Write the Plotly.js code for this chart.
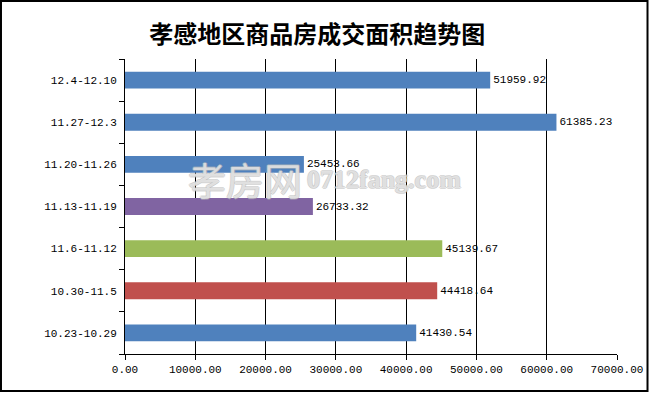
<!DOCTYPE html>
<html>
<head>
<meta charset="utf-8">
<script src="https://cdn.plot.ly/plotly-3.0.1.min.js"></script>
<style>html,body{margin:0;padding:0;background:#fff}#chart{width:649px;height:393px}</style>
</head>
<body>
<div id="chart"></div>
<script>
// Data (bottom to top)
const categories = ["10.23-10.29", "10.30-11.5", "11.6-11.12", "11.13-11.19", "11.20-11.26", "11.27-12.3", "12.4-12.10"];
const areaValues = [41430.54, 44418.64, 45139.67, 26733.32, 25453.66, 61385.23, 51959.92];
const barColors = ["#4F81BD", "#C0504D", "#9BBB59", "#8064A2", "#4F81BD", "#4F81BD", "#4F81BD"];
const xTickValues = [0, 10000, 20000, 30000, 40000, 50000, 60000, 70000];
const xTickLabels = ["0.00", "10000.00", "20000.00", "30000.00", "40000.00", "50000.00", "60000.00", "70000.00"];
const chartTitle = "孝感地区商品房成交面积趋势图";

const numFont = {family: "Liberation Mono, DejaVu Sans Mono, monospace", size: 11, color: "#000"};

const trace = {
  type: "bar",
  orientation: "h",
  y: categories,
  x: areaValues,
  marker: {color: barColors, line: {width: 0}},
  text: areaValues.map(v => v.toFixed(2)),
  textposition: "outside",
  textfont: numFont,
  cliponaxis: false,
  hoverinfo: "none"
};

const outline = "1px 0 0 #b8b8b8, -1px 0 0 #b8b8b8, 0 1px 0 #b8b8b8, 0 -1px 0 #b8b8b8";

const layout = {
  width: 649,
  height: 393,
  margin: {l: 125, r: 32, t: 59, b: 39},
  paper_bgcolor: "#fff",
  plot_bgcolor: "#fff",
  showlegend: false,
  bargap: 0.6,
  title: {
    text: chartTitle,
    font: {family: "Noto Sans CJK SC, sans-serif", size: 24, color: "#000", weight: "bold"},
    x: 0.489, xref: "container", xanchor: "center",
    y: 0.912, yref: "container", yanchor: "middle"
  },
  xaxis: {
    range: [0, 70000],
    tickvals: xTickValues,
    ticktext: xTickLabels,
    tickfont: numFont,
    showgrid: true,
    gridcolor: "#000",
    gridwidth: 1,
    zeroline: false,
    showline: true,
    linecolor: "#000",
    linewidth: 1,
    ticks: "outside",
    ticklen: 5,
    tickcolor: "#000",
    fixedrange: true
  },
  yaxis: {
    type: "category",
    tickfont: numFont,
    showgrid: false,
    zeroline: false,
    showline: true,
    linecolor: "#000",
    linewidth: 1,
    ticks: "outside",
    tickson: "boundaries",
    ticklen: 5,
    ticklabelstandoff: 5,
    tickcolor: "#000",
    fixedrange: true
  },
  shapes: [{
    type: "rect", xref: "paper", yref: "paper",
    x0: -125/492 + 0.002, x1: (648 - 125)/492 - 0.001,
    y0: (354 - 392)/295 + 0.003, y1: 354/295 - 0.003,
    line: {color: "#000", width: 2}, fillcolor: "rgba(0,0,0,0)", layer: "above"
  }],
  annotations: [
    {
      text: "孝房网", xref: "paper", yref: "paper", x: 0.243, y: 0.595,
      xanchor: "center", yanchor: "middle", showarrow: false,
      font: {family: "Noto Sans CJK SC, sans-serif", size: 38, color: "rgba(255,255,255,0.55)", shadow: outline}
    },
    {
      text: "0712fang.com", xref: "paper", yref: "paper", x: 0.527, y: 0.59,
      xanchor: "center", yanchor: "middle", showarrow: false,
      font: {family: "Liberation Serif, serif", size: 26, weight: "bold", color: "rgba(255,255,255,0.55)", shadow: outline}
    }
  ]
};

Plotly.newPlot("chart", [trace], layout, {staticPlot: true, displayModeBar: false});
</script>
</body>
</html>
